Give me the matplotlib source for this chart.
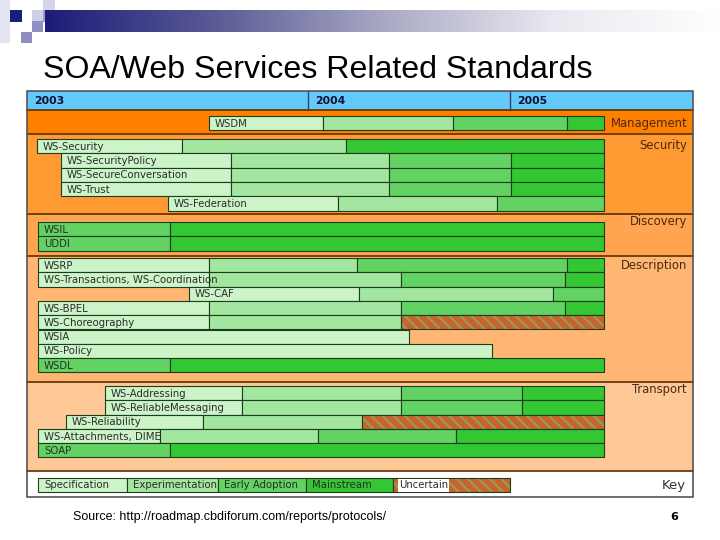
import matplotlib
matplotlib.use("Agg")
import matplotlib.pyplot as plt
import numpy as np
from matplotlib.patches import Rectangle
from matplotlib.colors import LinearSegmentedColormap

plt.rcParams["hatch.linewidth"] = 1.6

# ---------------- data ----------------
title = "SOA/Web Services Related Standards"
source = "Source: http://roadmap.cbdiforum.com/reports/protocols/"
page_no = "6"

years = ["2003", "2004", "2005"]
year_starts = [27, 308, 510]          # timeline units

stage_names = ["Specification", "Experimentation", "Early Adoption", "Mainstream", "Uncertain"]
S, X, E, M, U = 0, 1, 2, 3, 4

groups = ["Management", "Security", "Discovery", "Description", "Transport"]

management_names = ["WSDM"]
management_bounds = [[209, 323, 453, 567, 604]]
management_stages = [[S, X, E, M]]

security_names = ["WS-Security", "WS-SecurityPolicy", "WS-SecureConversation", "WS-Trust", "WS-Federation"]
security_bounds = [[37, 182, 346, 604],
                   [61, 231, 389, 511, 604],
                   [61, 231, 389, 511, 604],
                   [61, 231, 389, 511, 604],
                   [168, 338, 497, 604]]
security_stages = [[S, X, M], [S, X, E, M], [S, X, E, M], [S, X, E, M], [S, X, E]]

discovery_names = ["WSIL", "UDDI"]
discovery_bounds = [[38, 170, 604], [38, 170, 604]]
discovery_stages = [[E, M], [E, M]]

description_names = ["WSRP", "WS-Transactions, WS-Coordination", "WS-CAF", "WS-BPEL",
                     "WS-Choreography", "WSIA", "WS-Policy", "WSDL"]
description_bounds = [[38, 209, 357, 567, 604],
                      [38, 209, 401, 565, 604],
                      [189, 359, 553, 604],
                      [38, 209, 401, 565, 604],
                      [38, 209, 401, 604],
                      [38, 409],
                      [38, 492],
                      [38, 170, 604]]
description_stages = [[S, X, E, M], [S, X, E, M], [S, X, E], [S, X, E, M],
                      [S, X, U], [S], [S], [E, M]]

transport_names = ["WS-Addressing", "WS-ReliableMessaging", "WS-Reliability",
                   "WS-Attachments, DIME", "SOAP"]
transport_bounds = [[105, 242, 401, 522, 604],
                    [105, 242, 401, 522, 604],
                    [66, 203, 362, 604],
                    [38, 160, 318, 456, 604],
                    [38, 170, 604]]
transport_stages = [[S, X, E, M], [S, X, E, M], [S, X, U], [S, X, E, M], [E, M]]

key_bounds = [38, 127, 218, 306, 393, 510]

# ---------------- style / layout ----------------
stage_colors = ["#cdf3c9", "#a3e6a0", "#62d262", "#33c733", "#c8632e"]
hatch_color = "#9c9a52"
band_colors = ["#ff8000", "#ff9a33", "#ffa54f", "#ffb673", "#ffc997"]
band_heights = [24, 80, 42, 126, 89]
row_offsets = [6, 5, 8, 2, 4]
label_offsets = [13, 12, 7, 10, 8]
row_h = 14.3
panel_left, panel_right, panel_top = 27, 693, 91
header_h = 19
key_h = 26
edge_c = "#1d3d1d"

group_data = [
    (management_names, management_bounds, management_stages),
    (security_names, security_bounds, security_stages),
    (discovery_names, discovery_bounds, discovery_stages),
    (description_names, description_bounds, description_stages),
    (transport_names, transport_bounds, transport_stages),
]

fig = plt.figure(figsize=(7.2, 5.4), dpi=100)
ax = fig.add_axes([0, 0, 1, 1])
ax.set_xlim(0, 720)
ax.set_ylim(540, 0)
ax.axis("off")


def draw_segment(yc, left, width, stage):
    if stage == U:
        ax.barh(yc, width, left=left, height=row_h, color=stage_colors[stage],
                edgecolor=hatch_color, linewidth=0, hatch="\\\\\\", zorder=3)
        ax.barh(yc, width, left=left, height=row_h, color="none",
                edgecolor=edge_c, linewidth=0.8, zorder=3.5)
    else:
        ax.barh(yc, width, left=left, height=row_h, color=stage_colors[stage],
                edgecolor=edge_c, linewidth=0.8, zorder=3)


# decoration at the top
def deco_square(x, y, s, c):
    ax.add_patch(Rectangle((x, y), s, s, facecolor=c, edgecolor="none", zorder=2))

ax.add_patch(Rectangle((0, 0), 10, 43, facecolor="#e4e4f0", edgecolor="none"))
grad_ax = fig.add_axes([45 / 720, 1 - 32 / 540, 675 / 720, 22 / 540])
g = np.linspace(0, 1, 256)[None, :]
cmap = LinearSegmentedColormap.from_list("g", ["#1c1c78", "#5a5a96", "#a8a8c4", "#e8e8f0", "#ffffff"])
grad_ax.imshow(g, aspect="auto", cmap=cmap)
grad_ax.axis("off")
deco_square(10, 10, 12, "#1c1c7a")
deco_square(32, 10, 11, "#cfcfe6")
deco_square(43, 0, 12, "#d4d4ea")
deco_square(43, 10, 12, "#9c9cc8")
deco_square(32, 21, 11, "#9090c4")
deco_square(21, 32, 11, "#8e8ebe")

# title
ax.text(43, 70, title, fontsize=23.1, family=["Liberation Sans", "DejaVu Sans"],
        va="center", ha="left", color="#000000")

# header
ax.add_patch(Rectangle((panel_left, panel_top), panel_right - panel_left, header_h,
                       facecolor="#63c8fa", edgecolor="none"))
for i, (yr, xs) in enumerate(zip(years, year_starts)):
    ax.text(xs + 7, panel_top + header_h / 2 + 0.5, yr, fontsize=7.8, fontweight="bold",
            color="#101030", va="center", ha="left")
    if i > 0:
        ax.plot([xs, xs], [panel_top, panel_top + header_h], color="#334466", lw=1)

# bands
y = panel_top + header_h
for gi, (gname, (names, bounds, stages)) in enumerate(zip(groups, group_data)):
    bh = band_heights[gi]
    ax.add_patch(Rectangle((panel_left, y), panel_right - panel_left, bh,
                           facecolor=band_colors[gi], edgecolor="none", zorder=0))
    ax.plot([panel_left, panel_right], [y, y], color="#5a3000", lw=1.2, zorder=1)
    ax.text(687, y + label_offsets[gi], gname, fontsize=8.4, color="#4a2a10",
            ha="right", va="center")
    for ri, (nm, bd, st) in enumerate(zip(names, bounds, stages)):
        yc = y + row_offsets[gi] + ri * row_h + row_h / 2
        bd = np.array(bd, dtype=float)
        for k, s in enumerate(st):
            draw_segment(yc, bd[k], bd[k + 1] - bd[k], s)
        ax.text(bd[0] + 6, yc + 0.5, nm, fontsize=7.3, color="#2a2a2a",
                ha="left", va="center", zorder=5)
    y += bh

# key band
ax.add_patch(Rectangle((panel_left, y), panel_right - panel_left, key_h,
                       facecolor="white", edgecolor="none", zorder=0))
ax.plot([panel_left, panel_right], [y, y], color="#5a3000", lw=1.2, zorder=1)
kb = np.array(key_bounds, dtype=float)
kyc = y + key_h / 2 + 1
for k, nm in enumerate(stage_names):
    draw_segment(kyc, kb[k], kb[k + 1] - kb[k], k)
    bbox = dict(facecolor="white", edgecolor="none", pad=0.8) if k == U else None
    ax.text(kb[k] + 6, kyc + 0.5, nm, fontsize=7.3, color="#2a2a2a",
            ha="left", va="center", zorder=5, bbox=bbox)
ax.text(686, kyc, "Key", fontsize=9.5, color="#333333", ha="right", va="center")

panel_bottom = y + key_h
ax.add_patch(Rectangle((panel_left, panel_top), panel_right - panel_left,
                       panel_bottom - panel_top, facecolor="none",
                       edgecolor="#555555", lw=1.2, zorder=6))

# footer
ax.text(73, 517, source, fontsize=9, family=["Liberation Sans Narrow", "Liberation Sans", "DejaVu Sans"],
        color="#000000", ha="left", va="center")
ax.text(678, 517, page_no, fontsize=8, fontweight="bold", color="#000000",
        ha="right", va="center")

fig.savefig("out.png", dpi=100)
